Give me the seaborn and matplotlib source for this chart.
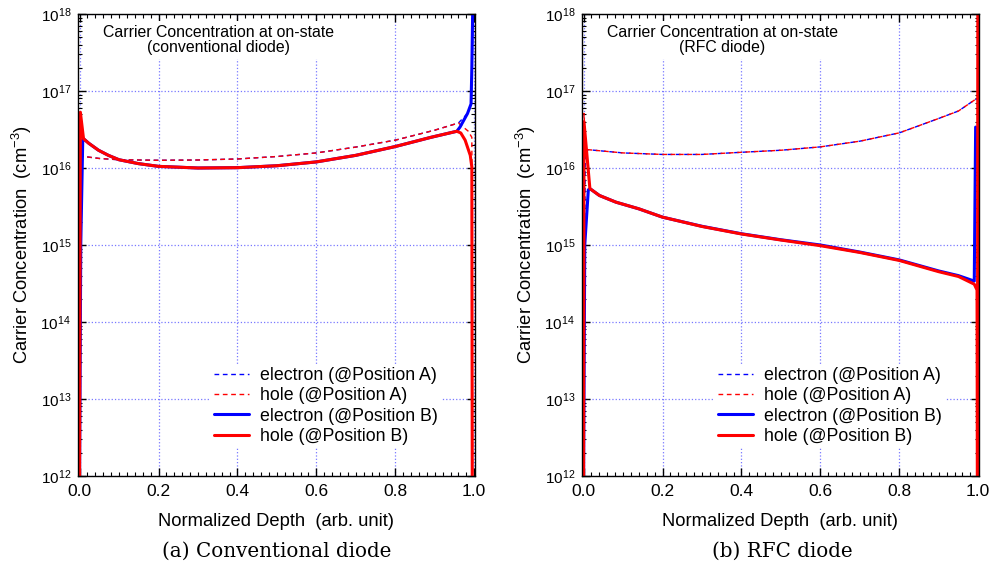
import matplotlib
matplotlib.use("Agg")
import matplotlib.pyplot as plt
import seaborn as sns
from matplotlib.ticker import LogLocator, MultipleLocator, NullFormatter

sns.set_theme(style="white")
plt.rcParams["font.family"] = ["Liberation Sans", "DejaVu Sans"]
plt.rcParams["mathtext.fontset"] = "custom"
plt.rcParams["mathtext.rm"] = "Liberation Sans"
plt.rcParams["mathtext.it"] = "Liberation Sans:italic"
plt.rcParams["mathtext.bf"] = "Liberation Sans:bold"
plt.rcParams["text.color"] = "black"
plt.rcParams["axes.labelcolor"] = "black"
plt.rcParams["xtick.color"] = "black"
plt.rcParams["ytick.color"] = "black"

# ---------------- conventional diode ----------------
conv_eA_x = [0.0, 0.004, 0.006, 0.05, 0.1, 0.2, 0.3, 0.4, 0.5, 0.6, 0.7, 0.8, 0.9, 0.96, 0.983, 0.992, 0.995, 0.997]
conv_eA_y = [1e12, 1.0e16, 1.42e16, 1.33e16, 1.28e16, 1.26e16, 1.27e16, 1.31e16, 1.41e16, 1.57e16, 1.87e16, 2.3e16, 3.1e16, 3.84e16, 5.1e16, 6.8e16, 2e17, 1e18]

conv_hA_x = [0.0, 0.002, 0.006, 0.05, 0.1, 0.2, 0.3, 0.4, 0.5, 0.6, 0.7, 0.8, 0.9, 0.96, 0.985, 0.994, 0.996]
conv_hA_y = [1e12, 3.0e16, 1.42e16, 1.33e16, 1.28e16, 1.26e16, 1.27e16, 1.31e16, 1.41e16, 1.57e16, 1.87e16, 2.3e16, 3.1e16, 3.84e16, 3.0e16, 2.5e16, 1e12]

conv_eB_x = [0.0, 0.003, 0.008, 0.01, 0.023, 0.048, 0.073, 0.1, 0.149, 0.2, 0.3, 0.4, 0.5, 0.6, 0.7, 0.8, 0.89, 0.956, 0.964, 0.983, 0.992, 0.994, 0.996]
conv_eB_y = [1e12, 1e15, 2.3e16, 2.4e16, 2.1e16, 1.7e16, 1.46e16, 1.28e16, 1.14e16, 1.05e16, 1.0e16, 1.01e16, 1.07e16, 1.2e16, 1.46e16, 1.9e16, 2.5e16, 3.0e16, 3.4e16, 5.1e16, 6.8e16, 2e17, 1e18]

conv_hB_x = [0.0, 0.002, 0.01, 0.023, 0.048, 0.073, 0.1, 0.149, 0.2, 0.3, 0.4, 0.5, 0.6, 0.7, 0.8, 0.89, 0.956, 0.966, 0.977, 0.99, 0.994, 0.995]
conv_hB_y = [1e12, 5.3e16, 2.4e16, 2.1e16, 1.7e16, 1.46e16, 1.28e16, 1.14e16, 1.05e16, 1.0e16, 1.01e16, 1.07e16, 1.2e16, 1.46e16, 1.9e16, 2.5e16, 3.0e16, 2.85e16, 2.3e16, 1.46e16, 1.03e16, 1e12]

# ---------------- RFC diode ----------------
rfc_eA_x = [0.0, 0.004, 0.006, 0.1, 0.2, 0.3, 0.4, 0.5, 0.6, 0.7, 0.8, 0.9, 0.95, 0.99, 1.0]
rfc_eA_y = [1e12, 1.0e16, 1.74e16, 1.57e16, 1.5e16, 1.5e16, 1.6e16, 1.7e16, 1.88e16, 2.23e16, 2.86e16, 4.4e16, 5.5e16, 7.6e16, 8.0e16]

rfc_hA_x = [0.0, 0.001, 0.006, 0.1, 0.2, 0.3, 0.4, 0.5, 0.6, 0.7, 0.8, 0.9, 0.95, 0.99, 1.0]
rfc_hA_y = [1e12, 5.1e16, 1.74e16, 1.57e16, 1.5e16, 1.5e16, 1.6e16, 1.7e16, 1.88e16, 2.23e16, 2.86e16, 4.4e16, 5.5e16, 7.6e16, 8.0e16]

rfc_eB_x = [0.0, 0.003, 0.012, 0.016, 0.04, 0.082, 0.14, 0.2, 0.3, 0.4, 0.5, 0.6, 0.7, 0.8, 0.9, 0.95, 0.99, 0.9935]
rfc_eB_y = [1e12, 1e15, 5.2e15, 5.4e15, 4.4e15, 3.6e15, 2.95e15, 2.3e15, 1.75e15, 1.4e15, 1.17e15, 1.0e15, 8.1e14, 6.4e14, 4.6e14, 4.0e14, 3.4e14, 3.4e16]

rfc_hB_x = [0.0, 0.001, 0.016, 0.04, 0.082, 0.14, 0.2, 0.3, 0.4, 0.5, 0.6, 0.7, 0.8, 0.9, 0.95, 0.99, 0.997, 0.998, 0.999]
rfc_hB_y = [1e12, 4.0e16, 5.4e15, 4.4e15, 3.6e15, 2.95e15, 2.3e15, 1.74e15, 1.39e15, 1.16e15, 9.8e14, 8.0e14, 6.3e14, 4.5e14, 3.9e14, 3.1e14, 2.6e14, 1e12, 1e18]

labels = ["electron (@Position A)", "hole (@Position A)",
          "electron (@Position B)", "hole (@Position B)"]
decades = [12, 13, 14, 15, 16, 17, 18]
x_ticks = [0.0, 0.2, 0.4, 0.6, 0.8, 1.0]

BLUE = "#0000ff"
RED = "#ff0000"
styles = [
    dict(color=BLUE, lw=1.0, dashes=(3.4, 2.6)),
    dict(color=RED, lw=1.0, dashes=(3.4, 2.6)),
    dict(color=BLUE, lw=2.2),
    dict(color=RED, lw=2.2),
]


def draw_panel(ax, series, title):
    for (xs, ys), lab, st in zip(series, labels, styles):
        st = dict(st)
        dashes = st.pop("dashes", None)
        sns.lineplot(x=xs, y=ys, ax=ax, sort=False, estimator=None,
                     label=lab, **st)
        if dashes is not None:
            ax.lines[-1].set_dashes(dashes)
    ax.set_yscale("log")
    ax.set_ylim(10.0 ** decades[0], 10.0 ** decades[-1])
    ax.set_xlim(-0.004, 1.002)
    ax.set_yticks([10.0 ** d for d in decades])
    ax.yaxis.set_minor_locator(LogLocator(base=10, subs=range(2, 10), numticks=20))
    ax.yaxis.set_minor_formatter(NullFormatter())
    ax.set_xticks(x_ticks)
    ax.set_xticklabels([f"{t:.1f}" for t in x_ticks])
    ax.xaxis.set_minor_locator(MultipleLocator(0.02))
    ax.tick_params(which="both", direction="in", top=True, right=True,
                   bottom=True, left=True, colors="black")
    ax.tick_params(which="major", length=6, width=1.0)
    ax.tick_params(which="minor", length=3, width=0.8)
    ax.tick_params(axis="y", pad=5, labelsize=11)
    ax.tick_params(axis="x", pad=6, labelsize=12.5)
    for sp in ax.spines.values():
        sp.set_color("black")
        sp.set_linewidth(1.0)
    ax.grid(True, which="major", color="#7878ff", ls=":", lw=0.9)
    ax.set_axisbelow(True)
    ax.set_xlabel("Normalized Depth  (arb. unit)", fontsize=13.2, labelpad=10)
    ax.set_ylabel("Carrier Concentration  (cm$^{-3}$)", fontsize=13.2, labelpad=5)
    ax.text(0.353, 0.977, title, transform=ax.transAxes, ha="center", va="top",
            fontsize=11.4, linespacing=1.05, zorder=5,
            bbox=dict(facecolor="white", edgecolor="none", pad=3))
    leg = ax.legend(loc="lower right", bbox_to_anchor=(0.915, 0.06), fontsize=12.8,
                    frameon=True, facecolor="white", edgecolor="none", framealpha=1,
                    fancybox=False, handlelength=2.0, handletextpad=0.6,
                    labelspacing=0.18, borderpad=0.2, borderaxespad=0)
    leg.set_zorder(5)


fig = plt.figure(figsize=(9.9, 5.67), dpi=100)
H = 567.0
W = 990.0
ax_l = fig.add_axes([78 / W, 1 - 476 / H, 397 / W, 462 / H])
ax_r = fig.add_axes([582 / W, 1 - 476 / H, 397 / W, 462 / H])

draw_panel(ax_l, [(conv_eA_x, conv_eA_y), (conv_hA_x, conv_hA_y),
                  (conv_eB_x, conv_eB_y), (conv_hB_x, conv_hB_y)],
           "Carrier Concentration at on-state\n(conventional diode)")
draw_panel(ax_r, [(rfc_eA_x, rfc_eA_y), (rfc_hA_x, rfc_hA_y),
                  (rfc_eB_x, rfc_eB_y), (rfc_hB_x, rfc_hB_y)],
           "Carrier Concentration at on-state\n(RFC diode)")

fig.text(277 / W, 1 - 551 / H, "(a) Conventional diode", family="DejaVu Serif",
         fontsize=14.3, ha="center", va="center")
fig.text(782 / W, 1 - 551 / H, "(b) RFC diode", family="DejaVu Serif",
         fontsize=14.3, ha="center", va="center")

fig.savefig("out.png", dpi=100, facecolor="white")
